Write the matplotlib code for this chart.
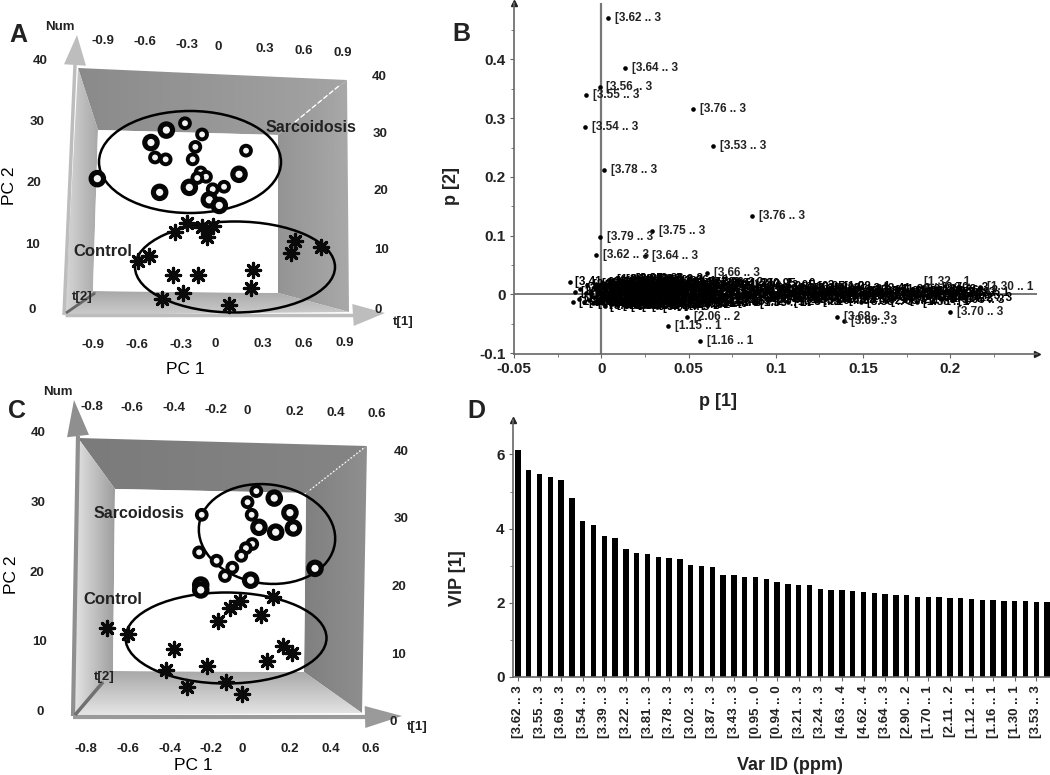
import numpy as np
import matplotlib
matplotlib.use("Agg")
import matplotlib.pyplot as plt
from matplotlib.patches import Polygon, Ellipse

plt.rcParams["font.family"] = ["Liberation Sans", "DejaVu Sans"]
NARROW = ["Liberation Sans Narrow", "Liberation Sans", "DejaVu Sans"]

################################################################################
## DATA
################################################################################

## Panel A - score plot
a_sarc_pc1 = [-0.243, -0.376, -0.121, -0.486, -0.169, 0.193, -0.457, -0.381, -0.188, 0.143,
              -0.869, -0.131, -0.093, -0.155, -0.212, -0.424, -0.045, 0.036, -0.069, 0.002]
a_sarc_pc2 = [30.0, 28.9, 28.2, 26.9, 26.2, 25.6, 24.5, 24.2, 24.2, 21.8,
              21.1, 22.1, 21.4, 21.2, 19.7, 18.9, 19.4, 19.8, 17.7, 16.8]
a_ctrl_pc1 = [-0.231, -0.314, -0.124, -0.040, -0.088, 0.545, 0.731, 0.512, -0.500, -0.576,
              -0.331, -0.148, 0.245, 0.226, -0.260, -0.410, 0.074]
a_ctrl_pc2 = [14.0, 12.6, 13.4, 13.5, 11.7, 11.1, 10.2, 9.1, 8.7, 7.8,
              5.6, 5.6, 6.5, 3.6, 2.7, 1.7, 0.8]
a_pc1_ticks = ["-0.9", "-0.6", "-0.3", "0", "0.3", "0.6", "0.9"]

## Panel C - score plot
c_sarc_pc1 = [0.036, 0.124, -0.007, 0.201, 0.013, -0.232, 0.218, 0.049, 0.131, 0.016,
              -0.015, -0.038, -0.245, -0.159, -0.082, -0.118, 0.008, 0.324, -0.237, -0.237]
c_sarc_pc2 = [31.6, 30.6, 30.0, 28.5, 28.2, 28.2, 26.3, 26.4, 25.7, 24.0,
              23.4, 22.3, 22.8, 21.6, 20.6, 19.4, 18.8, 20.5, 18.1, 17.4]
c_ctrl_pc1 = [0.116, -0.044, -0.093, 0.059, -0.151, -0.696, -0.592, -0.368, 0.165, 0.209,
              0.087, -0.205, -0.408, -0.113, -0.306, -0.036]
c_ctrl_pc2 = [16.4, 15.8, 14.8, 13.8, 12.9, 12.0, 11.0, 8.9, 9.3, 8.3,
              7.2, 6.4, 5.9, 4.1, 3.4, 2.4]
c_pc1_ticks = ["-0.8", "-0.6", "-0.4", "-0.2", "0", "0.2", "0.4", "0.6"]

pc2_ticks = ["40", "30", "20", "10", "0"]

## Panel B - loading plot, labelled outliers
b_p1 = [0.004, 0.0137, -0.001, -0.0086, 0.0527, -0.0093, 0.064, 0.0014, 0.0862, -0.0009,
        0.029, -0.003, 0.0252, 0.0604, 0.2172, 0.2, 0.1353, 0.1393, 0.049, 0.038, 0.0566]
b_p2 = [0.470, 0.386, 0.353, 0.340, 0.316, 0.285, 0.2525, 0.212, 0.1336, 0.098,
        0.108, 0.068, 0.0655, 0.036, 0.012, -0.029, -0.038, -0.0446, -0.0388, -0.053, -0.0786]
b_labels = ["[3.62 .. 3", "[3.64 .. 3", "[3.56 .. 3", "[3.55 .. 3", "[3.76 .. 3", "[3.54 .. 3",
            "[3.53 .. 3", "[3.78 .. 3", "[3.76 .. 3", "[3.79 .. 3", "[3.75 .. 3", "[3.62 .. 3",
            "[3.64 .. 3", "[3.66 .. 3", "[1.30 .. 1", "[3.70 .. 3", "[3.68 .. 3", "[3.69 .. 3",
            "[2.06 .. 2", "[1.15 .. 1", "[1.16 .. 1"]

## Panel B - the dense band near p[2] = 0, read by eye
cloud_p1 = [-0.018, -0.016, -0.015, -0.013, -0.012, -0.010, -0.009, -0.008, -0.007, -0.006,
            -0.005, -0.004, -0.004, -0.003, -0.002, -0.001, -0.001, 0.000, 0.001, 0.001,
            0.002, 0.003, 0.003, 0.004, 0.005, 0.005, 0.006, 0.007, 0.007, 0.008,
            0.009, 0.009, 0.010, 0.011, 0.011, 0.012, 0.013, 0.014, 0.014, 0.015,
            0.016, 0.017, 0.017, 0.018, 0.019, 0.020, 0.021, 0.022, 0.023, 0.024,
            0.025, 0.026, 0.027, 0.028, 0.029, 0.030, 0.031, 0.032, 0.034, 0.035,
            0.036, 0.038, 0.039, 0.041, 0.042, 0.044, 0.045, 0.047, 0.049, 0.051,
            0.053, 0.055, 0.057, 0.059, 0.061, 0.063, 0.065, 0.067, 0.069, 0.071,
            0.073, 0.075, 0.078, 0.080, 0.083, 0.085, 0.088, 0.090, 0.093, 0.096,
            0.098, 0.101, 0.104, 0.107, 0.110, 0.112, 0.115, 0.118, 0.121, 0.124,
            0.127, 0.130, 0.133, 0.136, 0.139, 0.142, 0.146, 0.149, 0.152, 0.156,
            0.159, 0.163, 0.166, 0.170, 0.174, 0.178, 0.181, 0.185, 0.188, 0.192,
            0.195, 0.198, 0.201, 0.204, 0.206,
            ## second pass over the darkest part of the band
            -0.006, -0.002, 0.001, 0.003, 0.005, 0.007, 0.008, 0.010, 0.012, 0.013,
            0.015, 0.016, 0.018, 0.019, 0.021, 0.022, 0.024, 0.025, 0.027, 0.028,
            0.030, 0.031, 0.033, 0.035, 0.037, 0.038, 0.040, 0.042, 0.044, 0.046,
            0.048, 0.050, 0.052, 0.054, 0.056, 0.058, 0.060, 0.002, 0.006, 0.009,
            0.011, 0.014, 0.017, 0.020, 0.023, 0.026, 0.029, 0.032, 0.036, 0.040,
            0.043, 0.047, 0.050, 0.054, 0.058, 0.062, 0.066, 0.070, 0.074, 0.077,
            0.081, 0.084, 0.087, 0.091, 0.094, 0.097, 0.100, 0.103, 0.106, 0.109,
            0.113, 0.116, 0.119, 0.122, 0.125, 0.128, 0.131, 0.135, 0.138, 0.141,
            0.145, 0.148, 0.153, 0.157, 0.161, 0.165, 0.169, 0.173, 0.177, 0.180,
            0.184, 0.187, 0.190, 0.193, 0.196, 0.199]
cloud_p2 = [0.021, -0.012, 0.004, -0.008, 0.010, -0.013, 0.002, 0.016, -0.010, 0.006,
            -0.014, 0.012, -0.004, 0.018, -0.012, 0.003, 0.014, -0.008, 0.020, -0.015,
            0.008, -0.002, 0.017, -0.011, 0.005, 0.022, -0.016, 0.011, -0.006, 0.019,
            0.001, -0.013, 0.015, -0.009, 0.024, 0.006, -0.015, 0.013, -0.003, 0.020,
            -0.011, 0.009, 0.026, -0.017, 0.003, 0.016, -0.007, 0.021, -0.014, 0.010,
            -0.002, 0.018, -0.012, 0.005, 0.023, -0.016, 0.012, -0.005, 0.017, -0.010,
            0.007, 0.020, -0.014, 0.002, 0.014, -0.018, 0.009, -0.006, 0.018, -0.012,
            0.004, 0.015, -0.009, 0.011, -0.015, 0.019, 0.001, -0.011, 0.013, -0.006,
            0.016, -0.013, 0.007, 0.018, -0.008, 0.012, -0.014, 0.003, 0.017, -0.010,
            0.009, -0.005, 0.014, -0.012, 0.006, 0.011, -0.009, 0.002, 0.013, -0.011,
            0.005, 0.010, -0.007, 0.012, -0.010, 0.003, 0.008, -0.012, 0.004, -0.006,
            0.009, -0.011, 0.002, 0.007, -0.009, 0.005, -0.012, 0.008, -0.004, 0.011,
            -0.008, 0.006, -0.010, 0.003, -0.006,
            0.000, 0.008, -0.006, 0.012, -0.002, 0.006, -0.010, 0.002, 0.014, -0.007,
            0.005, -0.003, 0.011, -0.009, 0.001, 0.015, -0.005, 0.007, -0.012, 0.003,
            0.013, -0.001, 0.009, -0.008, 0.004, 0.016, -0.004, 0.010, -0.011, 0.002,
            0.006, -0.007, 0.012, -0.002, 0.008, -0.010, 0.004, -0.019, 0.025, -0.018,
            0.022, -0.019, 0.027, -0.020, 0.024, -0.019, 0.026, -0.021, 0.021, -0.018,
            0.023, -0.017, 0.020, -0.016, 0.019, -0.015, 0.017, -0.003, 0.006, -0.001,
            0.002, -0.004, 0.008, -0.002, 0.005, -0.007, 0.001, 0.007, -0.003, 0.004,
            -0.006, 0.000, 0.009, -0.004, 0.002, -0.008, 0.006, 0.000, -0.002, 0.004,
            -0.005, 0.001, -0.003, 0.006, -0.001, 0.003, -0.005, 0.000, 0.004, -0.003,
            0.002, -0.004, 0.005, -0.001, 0.003, -0.002]
cloud_labels = ["[3.41 .. 3", "[2.86 .. 2", "[3.05 .. 3", "[1.28 .. 1", "[3.22 .. 3",
                "[2.06 .. 2", "[1.33 .. 1", "[3.38 .. 3", "[0.95 .. 0", "[3.70 .. 3"]

## Panel D - VIP bars
vip_values = [6.13, 5.58, 5.47, 5.40, 5.31, 4.83, 4.22, 4.09, 3.79, 3.76,
              3.44, 3.34, 3.32, 3.23, 3.22, 3.19, 3.02, 3.00, 2.96, 2.76,
              2.76, 2.70, 2.69, 2.65, 2.56, 2.51, 2.49, 2.49, 2.38, 2.34,
              2.34, 2.31, 2.29, 2.27, 2.23, 2.20, 2.20, 2.16, 2.16, 2.16,
              2.13, 2.14, 2.11, 2.08, 2.08, 2.06, 2.04, 2.04, 2.02, 2.02]
vip_tick_labels = ["[3.62 .. 3", "[3.55 .. 3", "[3.69 .. 3", "[3.54 .. 3", "[3.39 .. 3",
                   "[3.22 .. 3", "[3.81 .. 3", "[3.78 .. 3", "[3.02 .. 3", "[3.87 .. 3",
                   "[3.43 .. 3", "[0.95 .. 0", "[0.94 .. 0", "[3.21 .. 3", "[3.24 .. 3",
                   "[4.63 .. 4", "[4.62 .. 4", "[3.64 .. 3", "[2.90 .. 2", "[1.70 .. 1",
                   "[2.11 .. 2", "[1.12 .. 1", "[1.16 .. 1", "[1.30 .. 1", "[3.53 .. 3"]

################################################################################
## HELPERS
################################################################################

W, H = 1050, 775
fig = plt.figure(figsize=(W / 100, H / 100), dpi=100)

## Overlay in pixel units for the fake 3D boxes and the hand placed labels
bg = fig.add_axes([0, 0, 1, 1], zorder=0)
bg.set_xlim(0, W)
bg.set_ylim(H, 0)
bg.axis("off")


def px_axes(left, top, right, bottom, xlim, ylim, zorder=2):
    ax = fig.add_axes([left / W, 1 - bottom / H, (right - left) / W, (bottom - top) / H], zorder=zorder)
    ax.set_xlim(*xlim)
    ax.set_ylim(*ylim)
    return ax


def wall(pts, c0, c1, vertical=False):
    """Grey polygon with a linear shade, c0/c1 are grey levels 0-1."""
    pts = np.array(pts)
    grad = np.linspace(c0, c1, 64).reshape(-1, 1) if vertical else np.linspace(c0, c1, 64).reshape(1, -1)
    im = bg.imshow(grad, cmap="gray", vmin=0, vmax=1, aspect="auto", zorder=1,
                   extent=(pts[:, 0].min(), pts[:, 0].max(), pts[:, 1].max(), pts[:, 1].min()))
    im.set_clip_path(Polygon(pts, transform=bg.transData))
    bg.set_xlim(0, W)
    bg.set_ylim(H, 0)


def box_3d(outer, inner, shades):
    tl, tr, br, bl = outer
    itl, itr, ibr, ibl = inner
    wall([tl, tr, itr, itl], *shades["top"])
    wall([tr, br, ibr, itr], *shades["right"])
    wall([tl, itl, ibl, bl], *shades["left"])
    wall([ibl, ibr, br, bl], *shades["floor"], vertical=True)
    bg.add_patch(Polygon(inner, facecolor="white", edgecolor="none", zorder=2))


def grey_arrow(tail, neck, tip, half, color, lw=3):
    tail, neck, tip = np.array(tail), np.array(neck), np.array(tip)
    d = (tip - neck) / np.linalg.norm(tip - neck)
    n = np.array([-d[1], d[0]]) * half
    bg.plot([tail[0], neck[0]], [tail[1], neck[1]], color=color, lw=lw, zorder=3, solid_capstyle="butt")
    bg.add_patch(Polygon([neck + n, tip, neck - n], facecolor=color, edgecolor="none", zorder=3))


def label(x, y, s, size=9.5, rotation=0, weight="bold", color="#222222", family=None):
    bg.text(x, y, s, fontsize=size, rotation=rotation, fontweight=weight, color=color,
            ha="center", va="center", zorder=6, family=family)


def ticks_at(labels, xs, ys):
    for s, x, y in zip(labels, xs, ys):
        label(x / 3, y / 3, s)


def scatter_scores(ax, sarc, ctrl, big):
    sizes = [80 if i in big else 50 for i in range(len(sarc[0]))]
    widths = [3.7 if i in big else 2.8 for i in range(len(sarc[0]))]
    ax.scatter(sarc[0], sarc[1], s=sizes, facecolor="#f4f4f4", edgecolor="#050505", linewidth=widths, zorder=3)
    ax.scatter(ctrl[0], ctrl[1], s=105, marker=(8, 2, 0), color="#0a0a0a", linewidth=2.3, zorder=3)
    ax.axis("off")
    ax.patch.set_alpha(0)


################################################################################
## PANEL A
################################################################################

box_3d([(78, 68), (347, 80), (349, 312), (65, 315)],
       [(98, 130), (278, 135), (278, 293), (93, 291)],
       {"top": (0.54, 0.64), "right": (0.58, 0.66), "left": (0.84, 0.66), "floor": (0.66, 0.80)})
bg.plot([295, 340], [122, 85], color="white", lw=1, ls="--", zorder=3)
grey_arrow((64, 315), (75, 65), (77, 35), 11, "#bdbdbd", lw=2.5)
grey_arrow((65, 315), (353, 315), (385, 313), 11, "#bdbdbd", lw=2.5)
grey_arrow((66, 313), (95, 293), (96, 292), 0.5, "#666666", lw=2)

bg.add_patch(Ellipse((190, 162), 182, 102, fill=False, edgecolor="black", lw=1.8, zorder=4))
bg.add_patch(Ellipse((235, 267), 200, 91, fill=False, edgecolor="black", lw=1.8, zorder=4))

ax_a = px_axes(0, 0, 440, 385, (-219 / 140, 221 / 140), (-75 / 6.225, 310 / 6.225))
scatter_scores(ax_a, (a_sarc_pc1, a_sarc_pc2), (a_ctrl_pc1, a_ctrl_pc2), {1, 3, 9, 10, 14, 15, 18, 19})

ticks_at(a_pc1_ticks, [310, 436, 560, 655, 795, 912, 1028], [122, 127, 134, 140, 147, 153, 159])
ticks_at(a_pc1_ticks, [278, 412, 542, 645, 788, 912, 1035], [1035, 1035, 1035, 1033, 1033, 1031, 1030])
ticks_at(pc2_ticks, [120, 112, 103, 97, 97], [184, 365, 549, 736, 930])
ticks_at(pc2_ticks, [1137, 1140, 1143, 1145, 1135], [232, 401, 574, 750, 930])
label(60, 27, "Num")
label(403, 322, "t[1]")
label(82, 297, "t[2]")
label(185, 370, "PC 1", size=12.5, weight="normal", color="black")
label(9, 186, "PC 2", size=12.5, rotation=90, weight="normal", color="black")
label(18, 35, "A", size=18)
label(311, 128, "Sarcoidosis", size=11.5)
label(103, 251, "Control", size=12)

################################################################################
## PANEL C
################################################################################

box_3d([(78, 438), (367, 446), (362, 713), (73, 715)],
       [(115, 489), (306, 493), (304, 672), (113, 671)],
       {"top": (0.48, 0.52), "right": (0.50, 0.56), "left": (0.90, 0.62), "floor": (0.66, 0.90)})
bg.plot([310, 365], [490, 447], color="white", lw=1, ls=":", zorder=3)
grey_arrow((73, 716), (78, 436), (74, 400), 11, "#8f8f8f", lw=3)
grey_arrow((73, 717), (365, 717), (402, 716), 11, "#9a9a9a", lw=3)
grey_arrow((75, 715), (103, 682), (104, 681), 0.5, "#707070", lw=2.5)

bg.add_patch(Ellipse((267, 534), 137, 99, angle=8, fill=False, edgecolor="black", lw=1.8, zorder=4))
bg.add_patch(Ellipse((226, 638), 201, 91, fill=False, edgecolor="black", lw=1.8, zorder=4))

ax_c = px_axes(0, 385, 440, 775, (-249 / 203.67, 191 / 203.67), (-64 / 6.958, 326 / 6.958))
scatter_scores(ax_c, (c_sarc_pc1, c_sarc_pc2), (c_ctrl_pc1, c_ctrl_pc2), {1, 3, 6, 7, 8, 16, 17, 18, 19})

ticks_at(c_pc1_ticks, [275, 397, 522, 648, 743, 885, 1008, 1130],
         [y + 1155 for y in [65, 68, 70, 74, 78, 80, 85, 88]])
ticks_at(c_pc1_ticks, [258, 385, 510, 632, 728, 870, 992, 1113], [2248] * 8)
ticks_at(pc2_ticks, [115, 115, 112, 118, 120], [y + 1155 for y in [143, 353, 563, 772, 980]])
ticks_at(pc2_ticks, [1205, 1203, 1198, 1195, 1180], [y + 1155 for y in [200, 403, 607, 810, 1012]])
label(58, 392, "Num")
label(417, 727, "t[1]")
label(104, 677, "t[2]")
label(193, 766, "PC 1", size=12.5, weight="normal", color="black")
label(12, 575, "PC 2", size=12.5, rotation=90, weight="normal", color="black")
label(17, 411, "C", size=18)
label(139, 514, "Sarcoidosis", size=11.5)
label(113, 600, "Control", size=12)

################################################################################
## PANEL B
################################################################################

ax_b = px_axes(514, 3, 1037, 354, (-0.05, 0.2497), (-0.1013, 0.496))
for side in ["top", "right"]:
    ax_b.spines[side].set_visible(False)
for side in ["left", "bottom"]:
    ax_b.spines[side].set_color("#666666")
    ax_b.spines[side].set_linewidth(1.2)
ax_b.axvline(0, color="#777777", lw=1.6, zorder=1)
ax_b.axhline(0, color="#777777", lw=1.4, zorder=1)
ax_b.set_xticks([-0.05, 0, 0.05, 0.1, 0.15, 0.2], labels=["-0.05", "0", "0.05", "0.1", "0.15", "0.2"])
ax_b.set_yticks([-0.1, 0, 0.1, 0.2, 0.3, 0.4], labels=["-0.1", "0", "0.1", "0.2", "0.3", "0.4"])
ax_b.set_xticks(np.arange(-0.025, 0.24, 0.05), minor=True)
ax_b.set_yticks(np.arange(-0.05, 0.46, 0.1), minor=True)
ax_b.tick_params(axis="both", which="major", length=3, color="#666666", labelsize=11, pad=3)
ax_b.tick_params(axis="both", which="minor", length=2, color="#666666")
for t in ax_b.get_xticklabels() + ax_b.get_yticklabels():
    t.set_fontweight("bold")
    t.set_family(NARROW)
    t.set_color("#222222")
ax_b.plot(1, 0, ">", color="#222222", ms=5, transform=ax_b.transAxes, clip_on=False)
ax_b.plot(0, 1, "^", color="#222222", ms=5, transform=ax_b.transAxes, clip_on=False)

ax_b.scatter(cloud_p1, cloud_p2, s=11, color="black", zorder=3, linewidth=0)
for i in range(len(cloud_p1)):
    ax_b.annotate(cloud_labels[i % len(cloud_labels)], (cloud_p1[i], cloud_p2[i]), xytext=(4, 0),
                  textcoords="offset points", fontsize=8.5, va="center", color="black",
                  fontweight="bold", family=NARROW, zorder=3)

ax_b.scatter(b_p1, b_p2, s=11, color="black", zorder=4, linewidth=0)
ax_b.scatter(0.2165, 0.009, s=11, color="black", zorder=4, linewidth=0)
for x, y, s in zip(b_p1, b_p2, b_labels):
    ax_b.annotate(s, (x, y), xytext=(5, 0), textcoords="offset points", fontsize=8.5, va="center",
                  color="#222222", fontweight="bold", family=NARROW, zorder=4)
ax_b.annotate("[1.32 .. 1", (0.2165, 0.009), xytext=(-40, 5), textcoords="offset points", fontsize=8.5,
              va="center", color="#222222", fontweight="bold", family=NARROW, zorder=4)
ax_b.patch.set_alpha(0)

label(718, 402, "p [1]", size=13, family=NARROW)
label(452, 186, "p [2]", size=13, rotation=90, family=NARROW)
label(461, 34, "B", size=18)

################################################################################
## PANEL D
################################################################################

ax_d = px_axes(513, 420, 1050, 677, (-0.46, 49.26), (0, 6.93))
positions = np.arange(len(vip_values))
ax_d.bar(positions, vip_values, width=0.5, color="black")
for side in ["top", "right"]:
    ax_d.spines[side].set_visible(False)
for side in ["left", "bottom"]:
    ax_d.spines[side].set_color("#666666")
    ax_d.spines[side].set_linewidth(1.2)
ax_d.set_xticks(positions[::2], labels=vip_tick_labels, rotation=90)
ax_d.set_yticks([0, 2, 4, 6])
ax_d.set_yticks([1, 3, 5], minor=True)
ax_d.tick_params(axis="x", length=3, color="#666666", labelsize=9.5, pad=3)
ax_d.tick_params(axis="y", which="major", length=3, color="#666666", labelsize=11, pad=3)
ax_d.tick_params(axis="y", which="minor", length=2, color="#666666")
for t in ax_d.get_xticklabels() + ax_d.get_yticklabels():
    t.set_fontweight("bold")
    t.set_family(NARROW)
    t.set_color("#222222")
ax_d.plot(0, 1, "^", color="#222222", ms=5, transform=ax_d.transAxes, clip_on=False)
ax_d.patch.set_alpha(0)

label(458, 578, "VIP [1]", size=13, rotation=90, family=NARROW)
label(790, 765, "Var ID (ppm)", size=13, family=NARROW)
label(476, 411, "D", size=18)

fig.savefig("out.png", dpi=100)
